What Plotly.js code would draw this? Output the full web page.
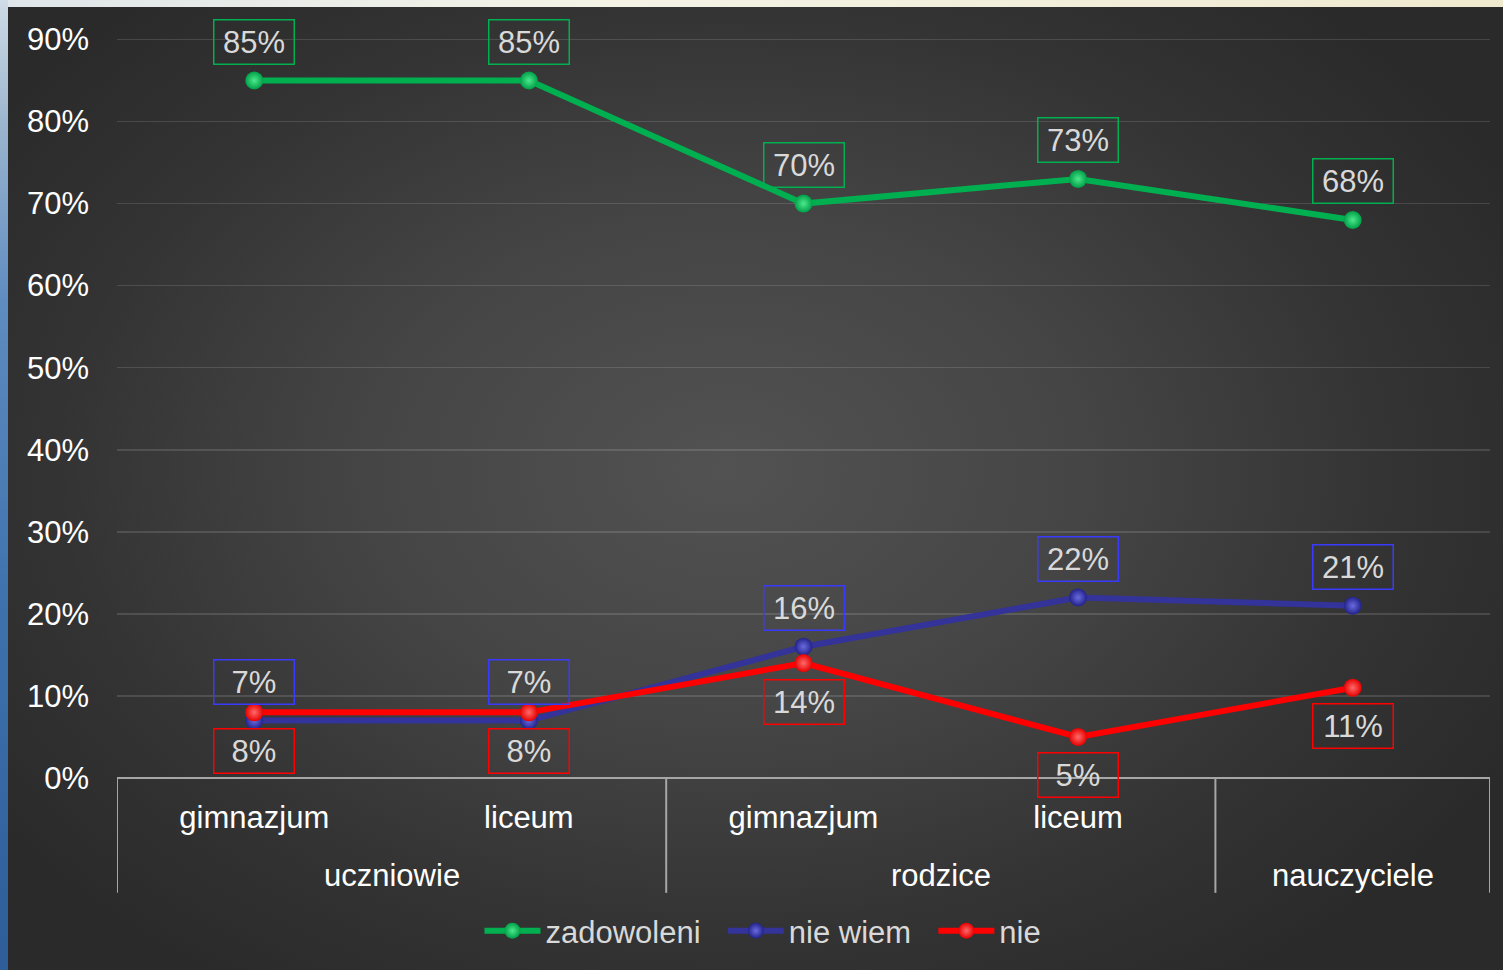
<!DOCTYPE html>
<html>
<head>
<meta charset="utf-8">
<script src="https://cdn.plot.ly/plotly-3.0.1.min.js"></script>
<style>
  html, body { margin:0; padding:0; width:1503px; height:970px; overflow:hidden; }
  body { background: #f2f1e4; }
  #top { position:absolute; left:0; top:0; width:1503px; height:7px; background: linear-gradient(90deg,#dfe6ea,#f4f3e6 40%,#efe9cf); }
  #left { position:absolute; left:0; top:0; width:8px; height:970px; background: linear-gradient(180deg,#cfdbe6 0px,#9db6cf 120px,#5f8cc0 300px,#3f72ad 600px,#2e5d98 970px); }
  #bg { position:absolute; left:8px; top:7px; width:1495px; height:963px;
        background: radial-gradient(ellipse 60% 65% at 48% 48%, #525252 0%, #454545 40%, #333 75%, #2a2a2a 100%); }
  #chart { position:absolute; left:0; top:0; width:1503px; height:970px; }
</style>
</head>
<body>
<div id="top"></div>
<div id="left"></div>
<div id="bg"></div>
<div id="chart"></div>
<script>
// ---- data ----
const groups = ['uczniowie', 'uczniowie', 'rodzice', 'rodzice', 'nauczyciele'];
const subcategories = ['gimnazjum', 'liceum', 'gimnazjum', 'liceum', ''];
const seriesNames = ['zadowoleni', 'nie wiem', 'nie'];
const zadowoleni = [85, 85, 70, 73, 68];
const nieWiem = [7, 7, 16, 22, 21];
const nie = [8, 8, 14, 5, 11];
const yTickVals = [0, 10, 20, 30, 40, 50, 60, 70, 80, 90];

// ---- styles ----
const FONT = '"Liberation Sans", Arial, sans-serif';
const idx = subcategories.map((_, i) => i);
const seriesDefs = [
  {name: seriesNames[0], y: zadowoleni, line: '#00b050', marker: '#00a048', hi: '#4de88c', border: '#00b050', shift: 38.5},
  {name: seriesNames[1], y: nieWiem, line: '#333399', marker: '#22228a', hi: '#6a6ae0', border: '#3a3aff', shift: 38.5},
  {name: seriesNames[2], y: nie, line: '#ff0000', marker: '#e60000', hi: '#ff6a6a', border: '#ff0000', shift: -38.5}
];
const traces = seriesDefs.map((s, k) => ({
  type: 'scatter', mode: 'lines+markers',
  name: s.name + (k < seriesDefs.length - 1 ? '\u00a0\u00a0' : ''),
  x: idx, y: s.y,
  line: {color: s.line, width: 6},
  marker: {size: 18, color: s.marker, gradient: {type: 'radial', color: s.hi}, line: {width: 0}},
  hoverinfo: 'skip'
}));

const annotations = [];
seriesDefs.forEach(s => {
  s.y.forEach((v, i) => {
    annotations.push({
      xref: 'x', yref: 'y', x: i, y: v, yshift: s.shift,
      text: v + '%', showarrow: false,
      font: {family: FONT, size: 31, color: '#d9d9d9'},
      bordercolor: s.border, borderwidth: 1.5, borderpad: 3,
      width: 73, height: 37, align: 'center', valign: 'middle'
    });
  });
});

// group labels + dividers
const shapes = [];
const DIV_BOTTOM = -0.155;
let start = 0;
const boundaries = [-0.5];
for (let i = 1; i <= groups.length; i++) {
  if (i === groups.length || groups[i] !== groups[start]) {
    const center = (start + i - 1) / 2;
    annotations.push({
      xref: 'x', yref: 'paper', x: center, y: -0.1322, yanchor: 'middle',
      text: groups[start], showarrow: false,
      font: {family: FONT, size: 31, color: '#ffffff'}
    });
    boundaries.push(i - 0.5);
    start = i;
  }
}
boundaries.forEach(b => shapes.push({
  type: 'line', xref: 'x', yref: 'paper', x0: b, x1: b, y0: 0, y1: DIV_BOTTOM,
  line: {color: '#a6a6a6', width: 2}
}));

const layout = {
  width: 1503, height: 970,
  paper_bgcolor: 'rgba(0,0,0,0)', plot_bgcolor: 'rgba(0,0,0,0)',
  margin: {l: 117, r: 13, t: 36.5, b: 190},
  font: {family: FONT, size: 31, color: '#ffffff'},
  showlegend: true,
  legend: {
    orientation: 'h', x: 0.264, xanchor: 'left', y: -0.2065, yanchor: 'middle',
    font: {family: FONT, size: 31, color: '#d9d9d9'},
    bgcolor: 'rgba(0,0,0,0)', itemwidth: 56, tracegroupgap: 0, traceorder: 'normal'
  },
  xaxis: {
    range: [-0.5, groups.length - 0.5],
    tickvals: idx, ticktext: subcategories,
    tickfont: {family: FONT, size: 31, color: '#ffffff'},
    ticks: '', showgrid: false, zeroline: false, showline: false,
    ticklabelstandoff: 18, fixedrange: true
  },
  yaxis: {
    range: [0, 90.3], tickvals: yTickVals, ticktext: yTickVals.map(v => v + '%'),
    tickfont: {family: FONT, size: 31, color: '#ffffff'},
    ticks: '', showgrid: true, gridcolor: 'rgba(255,255,255,0.13)', gridwidth: 1.5,
    zeroline: true, zerolinecolor: '#a6a6a6', zerolinewidth: 2.5,
    showline: false, ticklabelstandoff: 27, fixedrange: true
  },
  annotations: annotations,
  shapes: shapes
};

Plotly.newPlot('chart', traces, layout, {staticPlot: true, displayModeBar: false});
</script>
</body>
</html>
